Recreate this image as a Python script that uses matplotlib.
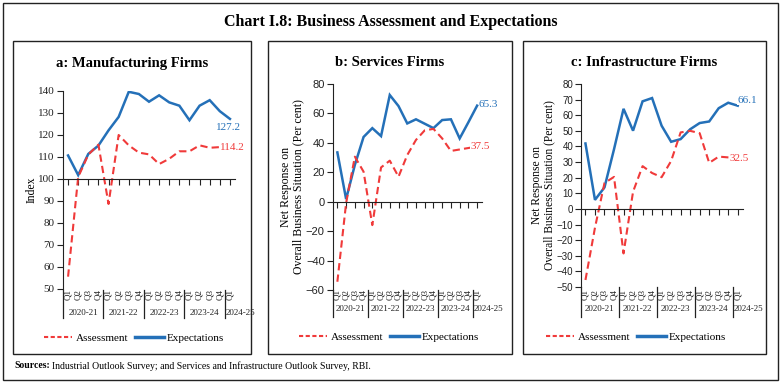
import matplotlib
matplotlib.use('Agg')
import matplotlib.pyplot as plt
from matplotlib.patches import Rectangle
from matplotlib.lines import Line2D
import matplotlib.transforms as mtransforms

W, H = 783, 385

quarters = ['Q1', 'Q2', 'Q3', 'Q4'] * 4 + ['Q1']
years = ['2020-21', '2021-22', '2022-23', '2023-24', '2024-25']

mfg_assess = [55.6, 100.8, 111, 115.5, 88.6, 119.9, 115.2, 111.9, 111.1, 106.7,
              109.1, 112.5, 112.5, 115.2, 114.1, 114.4, 114.2]
mfg_expect = [110.6, 101.7, 111.3, 115.1, 122, 128.1, 139.5, 138.5, 135, 137.9,
              134.7, 133.2, 126.6, 133.2, 135.7, 130.7, 127.2]

srv_assess = [-54.4, -1, 30.6, 20.4, -15.9, 23.3, 27.9, 17, 31.7, 42,
              48.5, 49.5, 43, 34.5, 35.5, 36.5, 37.5]
srv_expect = [33.5, 1.8, 25, 44, 50, 44.6, 72.5, 65, 53.2, 56,
              53, 50, 55.5, 56, 43, 54, 65.3]

inf_assess = [-45.5, -12, 16.6, 20.5, -28.5, 11, 27.4, 23, 20.3, 30.7,
              49, 50, 48.5, 29.5, 33.5, 33, 32.5]
inf_expect = [41.9, 5.8, 13.8, 38.2, 64.1, 50.1, 68.9, 71, 53.3, 43,
              44.7, 51, 55, 56, 64.5, 68, 66.1]

RED = '#F03A3A'
BLUE = '#2470B8'
SERIF = 'Liberation Serif'
SANS = 'Liberation Sans'

fig = plt.figure(figsize=(W / 100, H / 100), dpi=100)


def fx(px):
    return px / W


def fy(py):
    return 1 - py / H


def rect(x0, y0, x1, y1, lw=1.0):
    fig.add_artist(Rectangle((fx(x0), fy(y1)), fx(x1) - fx(x0), fy(y0) - fy(y1),
                             transform=fig.transFigure, fill=False,
                             edgecolor='#222222', lw=lw))


# outer border and panel boxes
rect(3, 3, 778, 380, lw=1.0)
rect(13, 41, 251, 354)
rect(268, 41, 512, 354)
rect(523, 41, 766, 354)

fig.text(fx(391), fy(22), 'Chart I.8: Business Assessment and Expectations',
         ha='center', va='center', fontsize=11.5, fontweight='bold', family=SERIF)

YLAB = 'Net Response on\nOverall Business Situation (Per cent)'
panels = [
    dict(box=(13, 251), ax=(63, 235, 90.7, 289), ylim=(50, 140), yticks=range(50, 141, 10),
         base=100, title='a: Manufacturing Firms', ylabel='Index', ylfs=8.5,
         a=mfg_assess, e=mfg_expect, tickfont=SERIF, tfs=8, pad=2,
         q_y=295, yr_y=313, sep=(290, 318), leg=(134, 338), ylab_x=32,
         elab=(15.9, 123.5, 'center'), alab=(16.2, 114.3, 'center')),
    dict(box=(268, 512), ax=(333, 481.5, 84, 290), ylim=(-60, 80), yticks=range(-60, 81, 20),
         base=0, title='b: Services Firms', ylabel=YLAB, ylfs=8.5,
         a=srv_assess, e=srv_expect, tickfont=SANS, tfs=8, pad=2,
         q_y=295, yr_y=309, sep=(290, 317), leg=(389, 337), ylab_x=292,
         elab=(16.2, 65.8, 'left'), alab=(15.25, 37.5, 'left')),
    dict(box=(523, 766), ax=(580.7, 742.5, 84, 287), ylim=(-50, 80), yticks=range(-50, 81, 10),
         base=0, title='c: Infrastructure Firms', ylabel=YLAB, ylfs=8.3,
         a=inf_assess, e=inf_expect, tickfont=SANS, tfs=7, pad=1.2,
         q_y=295, yr_y=309, sep=(287, 317), leg=(636, 337), ylab_x=543,
         elab=(16.0, 69.5, 'left'), alab=(15.1, 32.0, 'left')),
]

for p in panels:
    x0, x1, y0, y1 = p['ax']
    ax = fig.add_axes([fx(x0), fy(y1), fx(x1) - fx(x0), fy(y0) - fy(y1)])
    xs = list(range(len(quarters)))
    ax.plot(xs, p['e'], color=BLUE, lw=1.8, solid_joinstyle='miter')
    ax.plot(xs, p['a'], color=RED, lw=1.5, dashes=(3.5, 2))
    ax.set_xlim(-0.5, 16.5)
    ax.set_ylim(*p['ylim'])
    ax.set_yticks(list(p['yticks']))
    ax.set_xticks(xs)
    ax.set_xticklabels([])
    for s in ['top', 'right']:
        ax.spines[s].set_visible(False)
    ax.spines['bottom'].set_position(('data', p['base']))
    ax.spines['bottom'].set_color('#222222')
    ax.spines['left'].set_color('#222222')
    ax.tick_params(axis='x', direction='out', length=4, width=0.8, colors='#222222')
    ax.tick_params(axis='y', direction='out', length=4, width=0.8, colors='#222222',
                   labelsize=p['tfs'], pad=p['pad'])
    for lab in ax.get_yticklabels():
        lab.set_family(p['tickfont'])
    ax.set_facecolor('none')

    # labels on last points
    ex, ey, eha = p['elab']
    ax.text(ex, ey, f"{p['e'][-1]:.1f}", color=BLUE, fontsize=8, family=SERIF,
            ha=eha, va='center', clip_on=False,
            bbox=dict(facecolor='white', edgecolor='none', pad=0.2))
    axx, ayy, aha = p['alab']
    ax.text(axx, ayy, f"{p['a'][-1]:.1f}", color=RED, fontsize=8, family=SERIF,
            ha=aha, va='center', clip_on=False,
            bbox=dict(facecolor='white', edgecolor='none', pad=0.2))

    tr = mtransforms.blended_transform_factory(ax.transData, fig.transFigure)
    for i, q in enumerate(quarters):
        fig.text(i, fy(p['q_y']), q, transform=tr, rotation=90, ha='center',
                 va='center', fontsize=6.5, family=SERIF, color='#222222')
    for sx in [-0.5, 3.5, 7.5, 11.5, 15.5]:
        fig.add_artist(Line2D([sx, sx], [fy(p['sep'][0]), fy(p['sep'][1])],
                              transform=tr, color='#222222', lw=0.9))
    centers = [1.5, 5.5, 9.5, 13.5]
    for c, yr in zip(centers, years[:4]):
        fig.text(c, fy(p['yr_y']), yr, transform=tr, ha='center', va='center',
                 fontsize=6.5, family=SERIF, color='#222222')
    fig.text(15.55, fy(p['yr_y']), years[4], transform=tr, ha='left', va='center',
             fontsize=6.5, family=SERIF, color='#222222')

    # panel title
    bx0, bx1 = p['box']
    fig.text(fx((bx0 + bx1) / 2), fy(63), p['title'], ha='center', va='center',
             fontsize=10.5, fontweight='bold', family=SERIF)
    # y label
    fig.text(fx(p['ylab_x']), fy((y0 + y1) / 2), p['ylabel'], rotation=90,
             ha='center', va='center', fontsize=p['ylfs'], family=SERIF,
             multialignment='center', linespacing=1.05)
    # legend
    handles = [Line2D([], [], color=RED, lw=1.5, dashes=(2, 1.2)),
               Line2D([], [], color=BLUE, lw=2.5)]
    fig.legend(handles, ['Assessment', 'Expectations'], loc='center',
               bbox_to_anchor=(fx(p['leg'][0]), fy(p['leg'][1])), ncol=2,
               frameon=False, prop=dict(family=SERIF, size=8),
               handlelength=2.6, handletextpad=0.3, columnspacing=0.6)

t1 = fig.text(fx(14), fy(366), 'Sources:', ha='left', va='center', fontsize=7,
              fontweight='bold', family=SERIF)
fig.canvas.draw()
bb = t1.get_window_extent(fig.canvas.get_renderer())
fig.text(bb.x1 / W + fx(2), fy(366), 'Industrial Outlook Survey; and Services and Infrastructure Outlook Survey, RBI.',
         ha='left', va='center', fontsize=7, family=SERIF)

fig.savefig('out.png', dpi=100)
